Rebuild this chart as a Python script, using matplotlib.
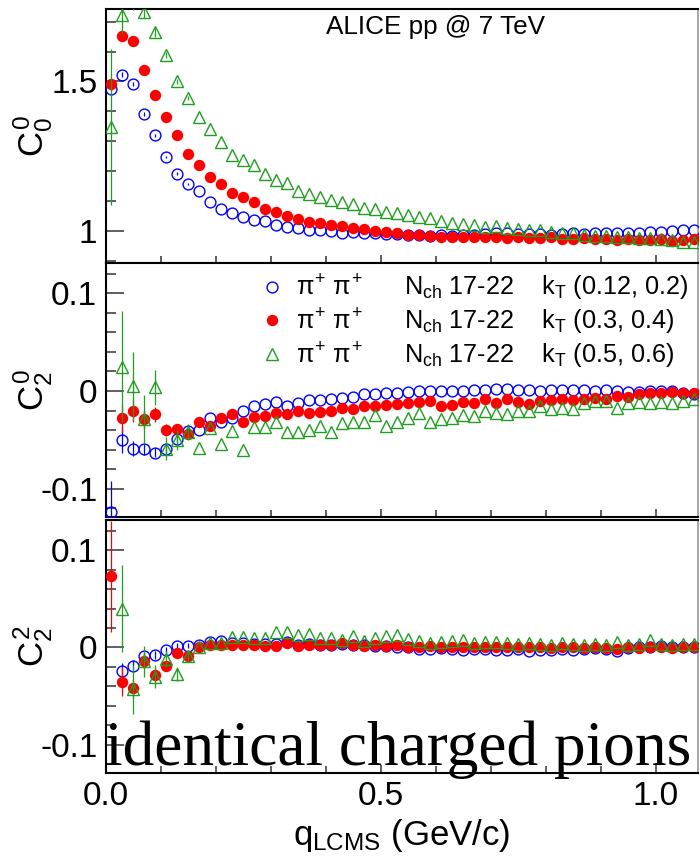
import numpy as np
import matplotlib
matplotlib.use('Agg')
import matplotlib.pyplot as plt
from matplotlib.ticker import FixedLocator, FixedFormatter, MultipleLocator, NullFormatter

plt.rcParams['font.family'] = ['Liberation Sans', 'DejaVu Sans']
plt.rcParams['mathtext.fontset'] = 'custom'
plt.rcParams['mathtext.rm'] = 'Liberation Sans'
plt.rcParams['mathtext.it'] = 'Liberation Sans'
plt.rcParams['mathtext.bf'] = 'Liberation Sans:bold'
plt.rcParams['axes.unicode_minus'] = False

# bin centres in q_LCMS (GeV/c), 0.02 wide bins
q = np.round(np.arange(0.01, 1.08, 0.02), 3)

# C^0_0
c00_lo = [1.476, 1.523, 1.492, 1.392, 1.320, 1.248, 1.192, 1.156, 1.133, 1.096, 1.073,
          1.059, 1.048, 1.037, 1.033, 1.020, 1.014, 1.009, 1.003, 1.003, 1.000, 0.994,
          0.996, 0.992, 0.992, 0.990, 0.989, 0.987, 0.987, 0.984, 0.987, 0.984, 0.987,
          0.987, 0.989, 0.992, 0.992, 0.990, 0.989, 0.989, 0.987, 0.989, 0.992, 0.989,
          0.992, 0.992, 0.992, 0.994, 0.994, 0.996, 0.996, 1.000, 1.003, 1.003]
c00_mid = [1.492, 1.653, 1.634, 1.537, 1.456, 1.381, 1.322, 1.259, 1.222, 1.181, 1.156,
           1.128, 1.114, 1.097, 1.074, 1.063, 1.050, 1.040, 1.031, 1.026, 1.020, 1.017,
           1.011, 1.006, 1.001, 0.996, 0.992, 0.987, 0.987, 0.983, 0.981, 0.981, 0.979,
           0.979, 0.979, 0.979, 0.976, 0.979, 0.976, 0.976, 0.979, 0.972, 0.972, 0.976,
           0.972, 0.972, 0.970, 0.972, 0.970, 0.970, 0.972, 0.968, 0.970, 0.972]
c00_hi = [1.348, 1.723, 1.780, 1.731, 1.664, 1.590, 1.501, 1.444, 1.381, 1.342, 1.298,
          1.253, 1.237, 1.220, 1.192, 1.170, 1.159, 1.134, 1.123, 1.114, 1.103, 1.096,
          1.092, 1.076, 1.072, 1.064, 1.059, 1.053, 1.046, 1.042, 1.034, 1.028, 1.023,
          1.020, 1.014, 1.017, 1.011, 1.006, 1.003, 1.003, 0.998, 0.994, 0.992, 0.987,
          0.983, 0.983, 0.979, 0.979, 0.976, 0.976, 0.972, 0.970, 0.964, 0.962]

# C^0_2
c20_lo = [-0.124, -0.050, -0.059, -0.059, -0.063, -0.059, -0.049, -0.041, -0.040, -0.028,
          -0.032, -0.028, -0.020, -0.015, -0.013, -0.011, -0.015, -0.012, -0.009, -0.009,
          -0.008, -0.007, -0.006, -0.003, -0.003, -0.002, -0.002, -0.001, 0.000, 0.000,
          0.000, 0.000, 0.000, 0.001, 0.001, 0.002, 0.002, 0.001, 0.001, 0.000, 0.001,
          0.001, 0.001, 0.001, 0.000, 0.001, 0.000, -0.001, -0.001, 0.000, 0.000, 0.000,
          -0.002, -0.003]
c20_mid = [np.nan, -0.028, -0.020, -0.029, -0.024, -0.040, -0.039, -0.044, -0.032, -0.036,
           -0.028, -0.024, -0.032, -0.027, -0.026, -0.023, -0.024, -0.020, -0.022, -0.021,
           -0.020, -0.017, -0.018, -0.015, -0.015, -0.014, -0.013, -0.012, -0.011, -0.010,
           -0.015, -0.014, -0.011, -0.012, -0.008, -0.012, -0.008, -0.011, -0.013, -0.010,
           -0.009, -0.008, -0.009, -0.008, -0.007, -0.008, -0.005, -0.006, -0.003, -0.002,
           -0.002, -0.001, -0.002, -0.002]
c20_hi = [np.nan, 0.025, 0.005, -0.029, 0.004, -0.059, -0.050, -0.042, -0.058, -0.038,
          -0.054, -0.041, -0.060, -0.037, -0.037, -0.032, -0.042, -0.042, -0.040, -0.036,
          -0.042, -0.033, -0.032, -0.032, -0.025, -0.036, -0.032, -0.028, -0.023, -0.032,
          -0.029, -0.028, -0.025, -0.026, -0.020, -0.023, -0.024, -0.020, -0.020, -0.015,
          -0.018, -0.017, -0.018, -0.012, -0.010, -0.010, -0.017, -0.012, -0.011, -0.012,
          -0.011, -0.012, -0.010, -0.008]

# C^2_2
c22_lo = [np.nan, -0.024, -0.019, -0.009, -0.008, -0.003, 0.002, 0.002, 0.003, 0.006,
          0.007, 0.005, 0.005, 0.004, 0.004, 0.004, 0.006, 0.003, 0.004, 0.003, 0.003,
          0.004, 0.003, 0.003, 0.002, 0.002, 0.001, 0.000, -0.002, -0.002, -0.001, -0.002,
          -0.003, -0.002, -0.002, -0.003, -0.003, -0.002, -0.004, -0.003, -0.003, -0.002,
          -0.003, -0.002, -0.001, -0.002, -0.004, -0.001, 0.000, 0.001, 0.002, 0.001,
          0.000, 0.000]
c22_mid = [0.073, -0.035, -0.042, -0.014, -0.028, -0.019, -0.006, -0.009, 0.000, 0.003,
           0.003, 0.003, 0.003, 0.003, 0.002, 0.002, 0.005, 0.002, 0.003, 0.003, 0.003,
           0.005, 0.003, 0.002, 0.003, 0.002, 0.003, 0.001, 0.001, 0.002, 0.001, 0.000,
           0.001, 0.001, 0.000, 0.001, 0.000, 0.001, 0.000, 0.000, -0.001, 0.000, 0.000,
           -0.001, 0.000, -0.001, -0.002, 0.000, -0.001, 0.000, 0.000, -0.001, 0.000, 0.000]
c22_hi = [np.nan, 0.040, -0.043, -0.014, -0.030, -0.012, -0.027, -0.009, 0.000, 0.005,
          0.005, 0.011, 0.011, 0.010, 0.010, 0.016, 0.016, 0.013, 0.014, 0.010, 0.010,
          0.008, 0.012, 0.007, 0.010, 0.012, 0.013, 0.009, 0.007, 0.005, 0.006, 0.007,
          0.008, 0.005, 0.006, 0.006, 0.005, 0.004, 0.005, 0.004, 0.003, 0.005, 0.004,
          0.003, 0.004, 0.003, 0.006, 0.003, 0.004, 0.008, 0.004, 0.003, 0.004, 0.004]

# statistical errors, first 8 bins only (the rest hide inside the markers)
n_err = 8
e00_lo = [0.008, 0.008, 0.007, 0.006, 0.005, 0.004, 0.004, 0.003]
e00_mid = [0.010, 0.010, 0.008, 0.006, 0.005, 0.004, 0.004, 0.003]
e00_hi = [0.260, 0.065, 0.040, 0.020, 0.015, 0.010, 0.008, 0.006]
e20_lo = [0.032, 0.013, 0.008, 0.006, 0.005, 0.005, 0.004, 0.004]
e20_mid = [np.nan, 0.014, 0.012, 0.010, 0.008, 0.006, 0.005, 0.005]
e20_hi = [np.nan, 0.057, 0.035, 0.025, 0.018, 0.012, 0.010, 0.008]
e22_lo = [np.nan, 0.008, 0.006, 0.005, 0.004, 0.004, 0.003, 0.003]
e22_mid = [0.057, 0.015, 0.010, 0.008, 0.007, 0.005, 0.004, 0.004]
e22_hi = [np.nan, 0.045, 0.025, 0.016, 0.012, 0.008, 0.007, 0.006]

labels = [r'$\pi^{+}\ \pi^{+}$      $N_{ch}$ 17-22    $k_{T}$ (0.12, 0.2)',
          r'$\pi^{+}\ \pi^{+}$      $N_{ch}$ 17-22    $k_{T}$ (0.3, 0.4)',
          r'$\pi^{+}\ \pi^{+}$      $N_{ch}$ 17-22    $k_{T}$ (0.5, 0.6)']

BLUE = '#0000ff'
RED = '#ff0000'
GREEN = '#1f9e1f'
styles = [dict(marker='o', ms=7.8, mfc='none', mec=BLUE, mew=1.0, color=BLUE),
          dict(marker='o', ms=8.2, mfc=RED, mec=RED, mew=0.0, color=RED),
          dict(marker='^', ms=8.8, mfc='none', mec=GREEN, mew=1.0, color=GREEN)]

panels = [
    ([c00_lo, c00_mid, c00_hi], [e00_lo, e00_mid, e00_hi], r'$C^{0}_{0}$'),
    ([c20_lo, c20_mid, c20_hi], [e20_lo, e20_mid, e20_hi], r'$C^{0}_{2}$'),
    ([c22_lo, c22_mid, c22_hi], [e22_lo, e22_mid, e22_hi], r'$C^{2}_{2}$'),
]

fig = plt.figure(figsize=(7.0, 8.61), dpi=100)
rects = [[0.151, 0.6945, 0.846, 0.2950],
         [0.151, 0.3995, 0.846, 0.2950],
         [0.151, 0.1022, 0.846, 0.2938]]
axes = [fig.add_axes(r) for r in rects]

handles = []
for k, (ax, (series, errs, ylab)) in enumerate(zip(axes, panels)):
    for j, (y, e, st) in enumerate(zip(series, errs, styles)):
        ax.errorbar(q[:n_err], y[:n_err], yerr=e, fmt='none', ecolor=st['color'],
                    elinewidth=0.9, capsize=0, zorder=2 + j)
        line, = ax.plot(q, y, linestyle='none', marker=st['marker'], ms=st['ms'],
                        mfc=st['mfc'], mec=st['mec'], mew=st['mew'], zorder=3 + j)
        if k == 1:
            handles.append(line)

    ax.set_xlim(0, 1.077)
    ax.xaxis.set_major_locator(FixedLocator([0.0, 0.5, 1.0]))
    ax.xaxis.set_minor_locator(MultipleLocator(0.1))
    if k == 2:
        ax.xaxis.set_major_formatter(FixedFormatter(['0.0', '0.5', '1.0']))
    else:
        ax.xaxis.set_major_formatter(NullFormatter())

    if k == 0:
        ax.set_ylim(0.893, 1.742)
        ax.yaxis.set_major_locator(FixedLocator([1.0, 1.5]))
        ax.yaxis.set_major_formatter(FixedFormatter(['1', '1.5']))
        ax.yaxis.set_minor_locator(MultipleLocator(0.1))
    else:
        ax.set_ylim(-0.129, 0.131)
        ax.yaxis.set_major_locator(FixedLocator([-0.1, 0.0, 0.1]))
        ax.yaxis.set_major_formatter(FixedFormatter(['-0.1', '0', '0.1']))
        ax.yaxis.set_minor_locator(MultipleLocator(0.02))

    ax.tick_params(axis='both', which='both', direction='in', top=False, right=False,
                   labelsize=24, color='#333333', width=1.1)
    ax.tick_params(axis='y', which='major', length=13, pad=6)
    ax.tick_params(axis='y', which='minor', length=7)
    ax.tick_params(axis='x', which='major', length=6, pad=6)
    ax.tick_params(axis='x', which='minor', length=5)

    for side in ['left', 'bottom', 'top']:
        ax.spines[side].set_linewidth(1.5)
    ax.spines['right'].set_linewidth(1.2)
    ax.spines['right'].set_color('#999999')

    ax.set_ylabel(ylab, fontsize=25)
    ax.yaxis.set_label_coords(-0.085, 0.5)

axes[0].text(0.372, 0.975, 'ALICE pp @ 7 TeV', transform=axes[0].transAxes,
             fontsize=18.8, ha='left', va='top')

axes[1].legend(handles=handles, labels=labels, loc='upper left',
               bbox_to_anchor=(0.262, 0.962), frameon=False, fontsize=18.2,
               handlelength=0.9, handletextpad=0.5, labelspacing=0.14,
               borderpad=0.0, borderaxespad=0.0, numpoints=1)

axes[2].set_xlabel(r'$q_{LCMS}$ (GeV/c)', fontsize=25, labelpad=3)

fig.text(105 / 700, 1 - 765 / 861, 'identical charged pions', family='Liberation Serif',
         fontsize=45.5, ha='left', va='baseline', color='black')

fig.savefig('out.png', dpi=100)
